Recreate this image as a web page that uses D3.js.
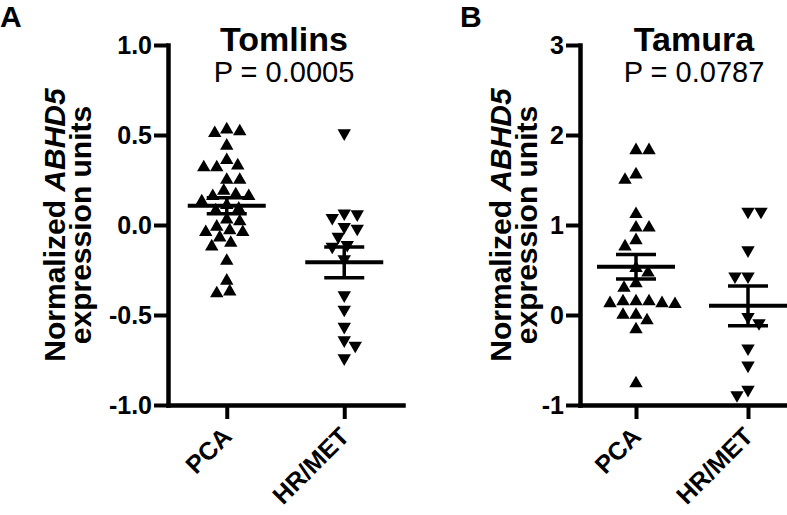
<!DOCTYPE html>
<html>
<head>
<meta charset="utf-8">
<script src="https://cdn.jsdelivr.net/npm/d3@7"></script>
<style>
  body { margin: 0; background: #fff; }
  svg text { font-family: "Liberation Sans", Arial, Helvetica, sans-serif; fill: #000; }
</style>
</head>
<body>
<svg id="chart" width="787" height="515"></svg>
<script>
"use strict";

// groups on the x axis
const groups = ["PCA", "HR/MET"];

// Tomlins data set (panel A)
const tomlinsPCA = [0.53, 0.51, 0.52, 0.44, 0.32, 0.33, 0.36, 0.32, 0.25, 0.25,
    0.17, 0.16, 0.16, 0.19, 0.13, 0.11, 0.09, 0.08, 0.03, -0.01, -0.04, -0.07,
    -0.04, -0.03, 0.02, -0.12, -0.10, -0.20, -0.31, -0.38, -0.37];
const tomlinsHRMET = [0.51, 0.06, 0.065, 0.04, -0.01, -0.02, -0.065, -0.12, -0.11,
    -0.19, -0.39, -0.47, -0.565, -0.64, -0.67, -0.74];

// Tamura data set (panel B)
const tamuraPCA = [1.83, 1.83, 1.50, 1.56, 1.12, 0.97, 0.97, 0.83, 0.76, 0.47, 0.52,
    0.35, 0.30, 0.15, 0.13, 0.12, 0.13, 0.15, 0.15, 0.0, -0.06, 0.0, -0.16, -0.76];
const tamuraHRMET = [1.15, 1.15, 0.72, 0.43, 0.43, -0.09, -0.02, -0.37, -0.56, -0.89, -0.83];

// tick labels
const tomlinsTicks = [-1.0, -0.5, 0.0, 0.5, 1.0];
const tamuraTicks = [-1, 0, 1, 2, 3];

const panels = [
    {
        letter: "A", title: "Tomlins", pLabel: "P = 0.0005",
        series: [tomlinsPCA, tomlinsHRMET],
        domain: [-1, 1], ticks: tomlinsTicks, format: d3.format(".1f"),
        left: 168, right: 403, letterX: 0, titleX: 284, titleLine: [65, 91]
    },
    {
        letter: "B", title: "Tamura", pLabel: "P = 0.0787",
        series: [tamuraPCA, tamuraHRMET],
        domain: [-1, 3], ticks: tamuraTicks, format: d3.format("d"),
        left: 580, right: 804, letterX: 460, titleX: 694, titleLine: [511, 537]
    }
];

const svg = d3.select("#chart");
const plotTop = 45, plotBottom = 405;
const symbolSize = 78;

panels.forEach(drawPanel);

function drawPanel(p) {
    let g = svg.append("g");

    let y = d3.scaleLinear().domain(p.domain).range([plotBottom, plotTop]);
    let x = d3.scalePoint().domain(groups).range([p.left, p.right]).padding(0.5);

    // points first, bars and axes on top
    p.series.forEach(function(values, i) {
        let cx = x(groups[i]);
        let placed = swarm(values, y);
        let shape = d3.symbol(d3.symbolTriangle, symbolSize);

        g.selectAll(".pt" + i)
            .data(placed)
            .enter().append("path")
            .attr("class", "pt" + i)
            .attr("d", shape)
            .attr("transform", d => "translate(" + (cx + d.dx) + "," + d.py + ")" + (i === 1 ? " rotate(180)" : ""))
            .style("fill", "#000");

        // mean +- SEM
        let m = d3.mean(values);
        let sem = d3.deviation(values) / Math.sqrt(values.length);

        g.append("line")
            .attr("x1", cx - 39).attr("x2", cx + 39)
            .attr("y1", y(m)).attr("y2", y(m))
            .style("stroke", "#000").style("stroke-width", 4);
        [m - sem, m + sem].forEach(function(v) {
            g.append("line")
                .attr("x1", cx - 20).attr("x2", cx + 20)
                .attr("y1", y(v)).attr("y2", y(v))
                .style("stroke", "#000").style("stroke-width", 3.5);
        });
        g.append("line")
            .attr("x1", cx).attr("x2", cx)
            .attr("y1", y(m - sem)).attr("y2", y(m + sem))
            .style("stroke", "#000").style("stroke-width", 3.5);
    });

    // y axis
    let yAxis = g.append("g")
        .attr("transform", "translate(" + p.left + ",0)")
        .call(d3.axisLeft(y)
            .tickValues(p.ticks)
            .tickSize(14)
            .tickSizeOuter(0)
            .tickPadding(2)
            .tickFormat(d => p.format(d).replace("\u2212", "-")));

    // x axis
    let xAxis = g.append("g")
        .attr("transform", "translate(0," + plotBottom + ")")
        .call(d3.axisBottom(x).tickSize(14).tickSizeOuter(0));

    xAxis.selectAll("text")
        .attr("x", 0).attr("y", 0).attr("dy", null)
        .attr("transform", "translate(6,33) rotate(-45)")
        .style("text-anchor", "end");

    [yAxis, xAxis].forEach(function(a) {
        a.select(".domain").style("stroke", "#000").style("stroke-width", 4.5).style("stroke-linecap", "square");
        a.selectAll(".tick line").style("stroke", "#000").style("stroke-width", 4);
        a.selectAll("text")
            .style("font-size", "25px")
            .style("font-weight", "bold")
            .style("font-family", "\"Liberation Sans\", Arial, sans-serif")
            .style("fill", "#000");
    });

    // y axis title, two lines
    let midY = (plotTop + plotBottom) / 2;
    let t1 = g.append("text")
        .attr("transform", "translate(" + p.titleLine[0] + "," + midY + ") rotate(-90)")
        .attr("text-anchor", "middle")
        .style("font-size", "30px").style("font-weight", "bold");
    t1.append("tspan").text("Normalized ");
    t1.append("tspan").style("font-style", "italic").text("ABHD5");

    g.append("text")
        .attr("transform", "translate(" + p.titleLine[1] + "," + midY + ") rotate(-90)")
        .attr("text-anchor", "middle")
        .style("font-size", "30px").style("font-weight", "bold")
        .text("expression units");

    // titles
    g.append("text")
        .attr("x", p.titleX).attr("y", 51)
        .attr("text-anchor", "middle")
        .style("font-size", "34px").style("font-weight", "bold")
        .text(p.title);

    g.append("text")
        .attr("x", p.titleX).attr("y", 82)
        .attr("text-anchor", "middle")
        .style("font-size", "29px")
        .text(p.pLabel);

    // panel letter
    g.append("text")
        .attr("x", p.letterX).attr("y", 27)
        .style("font-size", "30px").style("font-weight", "bold")
        .text(p.letter);
}

/* simple beeswarm: put each point as close to the column centre as it can go */
function swarm(values, y) {
    let sorted = values.map(v => ({ v: v, py: y(v) }))
        .sort((a, b) => a.py - b.py);
    let done = [];
    let side = 1;

    sorted.forEach(function(d) {
        let best = null;
        for (let k = 0; k <= 40 && best === null; k++) {
            let cands = k === 0 ? [0] : [side * k, -side * k];
            for (let c of cands) {
                let hit = done.some(o => Math.pow((o.dx - c) / 12.5, 2) + Math.pow((o.py - d.py) / 11, 2) < 1);
                if (!hit) { best = c; break; }
            }
        }
        d.dx = best === null ? 0 : best;
        if (d.dx !== 0) side = -Math.sign(d.dx);
        done.push(d);
    });
    return done;
}
</script>
</body>
</html>
